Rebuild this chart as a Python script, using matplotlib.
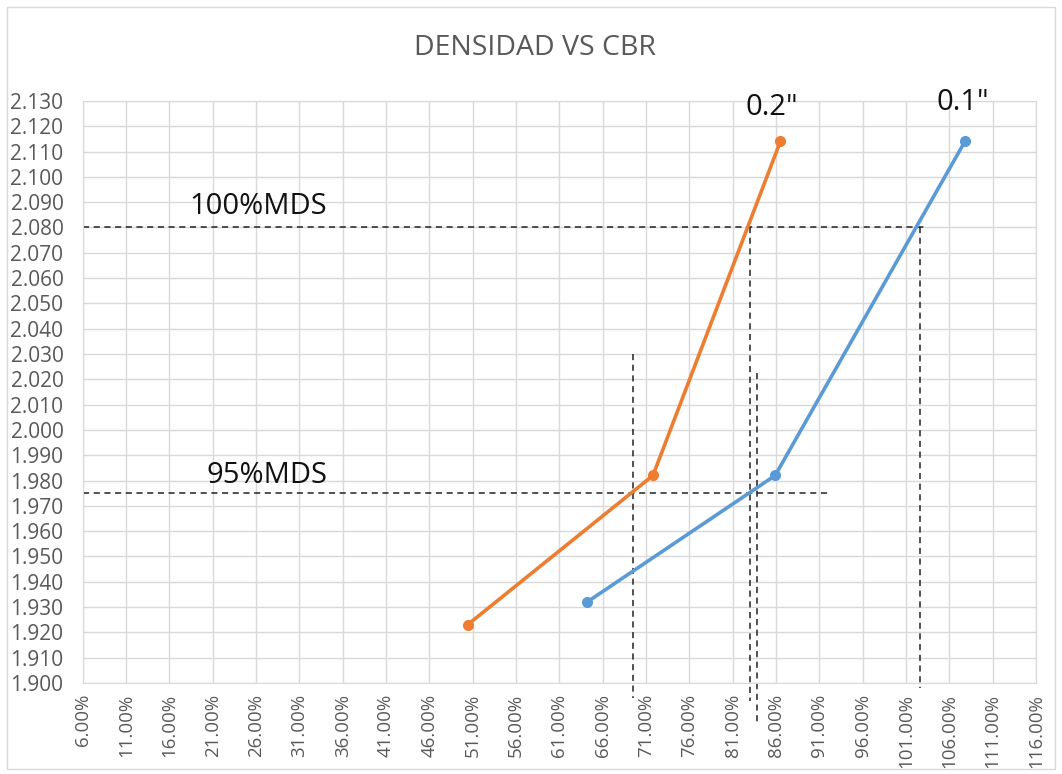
"""
Densidad vs CBR - recreated chart
"""
import matplotlib.pyplot as plt
from matplotlib.patches import Rectangle

plt.rcParams['font.family'] = ['Open Sans', 'DejaVu Sans']

# datos
cbr_02 = [0.504, 0.718, 0.865]      # 0.2"
dens_02 = [1.923, 1.982, 2.114]
cbr_01 = [0.642, 0.859, 1.078]      # 0.1"
dens_01 = [1.932, 1.982, 2.114]

mds_100 = 2.080
mds_95 = 1.975
cbr_100 = [0.830, 1.026]            # cortes con 100%MDS
cbr_95 = [0.695, 0.838]             # cortes con 95%MDS

x_ticks = [0.06 + 0.05 * i for i in range(23)]
y_ticks = [1.900 + 0.010 * i for i in range(24)]

gray = '#595959'

fig = plt.figure(figsize=(10.62, 7.74), dpi=100)
fig.patches.append(Rectangle((0.007, 0.006), 0.986, 0.985, transform=fig.transFigure,
                             fill=False, edgecolor='#D9D9D9', lw=1))
ax = fig.add_axes([0.078, 0.1176, 0.8975, 0.752])

ax.set_xlim(0.06, 1.16)
ax.set_ylim(1.900, 2.130)
ax.set_xticks(x_ticks)
ax.set_yticks(y_ticks)
ax.set_xticklabels([f'{v*100:.2f}%' for v in x_ticks], rotation=90)
ax.set_yticklabels([f'{v:.3f}' for v in y_ticks])
ax.tick_params(colors=gray, length=0)
ax.tick_params(axis='y', labelsize=15, pad=14)
ax.tick_params(axis='x', labelsize=13.5, pad=8)
ax.grid(True, color='#D9D9D9', lw=1)
ax.set_axisbelow(True)
for s in ax.spines.values():
    s.set_color('#D9D9D9')

# lineas de lectura (punteadas)
dash = dict(color='#222222', lw=1.1, ls=(0, (4, 3)), clip_on=False, zorder=2)
ax.plot([0.06, 1.034], [mds_100, mds_100], **dash)
ax.plot([0.06, 0.92], [mds_95, mds_95], **dash)
ax.plot([cbr_100[0], cbr_100[0]], [mds_100, 1.893], **dash)
ax.plot([cbr_100[1], cbr_100[1]], [mds_100, 1.898], **dash)
ax.plot([cbr_95[0], cbr_95[0]], [2.030, 1.894], **dash)
ax.plot([cbr_95[1], cbr_95[1]], [2.0225, 1.8835], **dash)

ax.plot(cbr_01, dens_01, color='#5B9BD5', lw=2.6, marker='o', ms=7, zorder=3)
ax.plot(cbr_02, dens_02, color='#ED7D31', lw=2.6, marker='o', ms=7, zorder=3)

ax.text(0.262, 2.0855, '100%MDS', fontsize=21, color='#111111', ha='center', va='baseline')
ax.text(0.273, 1.979, '95%MDS', fontsize=21, color='#111111', ha='center', va='baseline')
ax.text(0.855, 2.1245, '0.2"', fontsize=21, color='#111111', ha='center', va='baseline')
ax.text(1.075, 2.1265, '0.1"', fontsize=21, color='#111111', ha='center', va='baseline')

fig.text(0.504, 0.938, 'DENSIDAD VS CBR', fontsize=20.5, color=gray, ha='center', va='center')

plt.savefig('out.png', dpi=100)
